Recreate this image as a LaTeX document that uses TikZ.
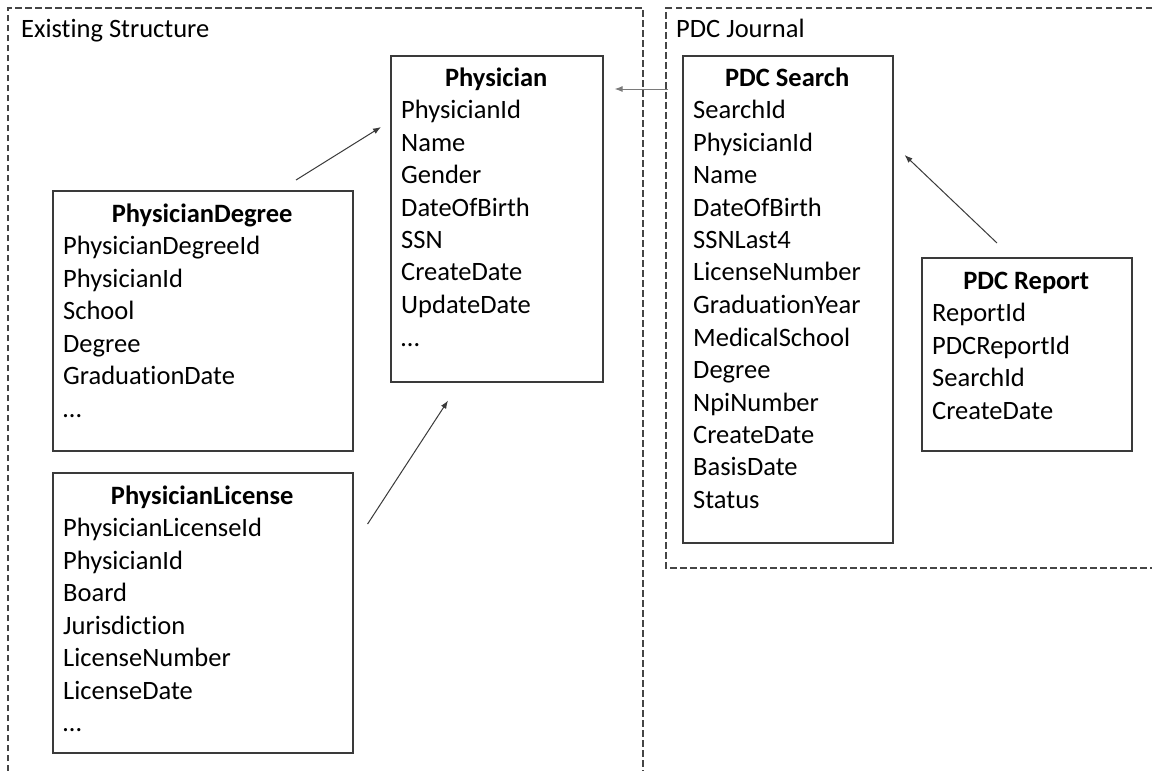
\documentclass[tikz,border=0pt]{standalone}
\usepackage{fontspec}
\setmainfont{Carlito}[Ligatures={NoCommon,NoRare,NoContextual}]
\usetikzlibrary{arrows.meta}
\definecolor{boxc}{HTML}{3A3A3A}
\definecolor{framec}{HTML}{454545}
\definecolor{arrc}{HTML}{3A3A3A}
\definecolor{arrlight}{HTML}{7A7A7A}
\newcommand{\tbltitle}[1]{{\centering\bfseries #1\par}}
\begin{document}
\begin{tikzpicture}[x=1pt,y=-1pt,
  frame/.style={draw=framec, line width=1.3pt, dash pattern=on 6.5pt off 3.5pt},
  tbl/.style={draw=boxc, line width=1.6pt, anchor=north west, inner sep=0pt},
  txt/.style={anchor=base west, inner sep=0pt, text=black, font=\fontsize{26.5}{32.5}\selectfont},
  arr/.style={draw=arrc, line width=1pt, -{Latex[length=8pt,width=6pt]}},
  arrl/.style={draw=arrlight, line width=1pt, -{Latex[length=8pt,width=6pt]}}]
\useasboundingbox (0,0) rectangle (1152,771);
\fill[white] (0,0) rectangle (1152,771);

% frames
\draw[frame] (8,771) -- (8,8) -- (643,8) -- (643,771);
\draw[frame] (1152,8) -- (666,8) -- (666,568) -- (1152,568);
\node[txt] (exlabel) at (21,37) {Existing Structure};
\node[txt] (pdclabel) at (676,37) {PDC Journal};

% Physician
\node[tbl, minimum width=212pt, minimum height=326pt] (phys) at (390,55) {};
\node[txt] (physT) at (401,86) {\parbox[t]{190pt}{\tbltitle{Physician}\raggedright
PhysicianId\\Name\\Gender\\DateOfBirth\\SSN\\CreateDate\\UpdateDate\\…}};

% PhysicianDegree
\node[tbl, minimum width=300pt, minimum height=260pt] (deg) at (52,190) {};
\node[txt] (degT) at (63,222) {\parbox[t]{278pt}{\tbltitle{PhysicianDegree}\raggedright
PhysicianDegreeId\\PhysicianId\\School\\Degree\\GraduationDate\\…}};

% PhysicianLicense
\node[tbl, minimum width=300pt, minimum height=280pt] (lic) at (52,472) {};
\node[txt] (licT) at (63,504) {\parbox[t]{278pt}{\tbltitle{PhysicianLicense}\raggedright
PhysicianLicenseId\\PhysicianId\\Board\\Jurisdiction\\LicenseNumber\\LicenseDate\\…}};

% PDC Search
\node[tbl, minimum width=210pt, minimum height=487pt] (search) at (682,55) {};
\node[txt] (searchT) at (693,86) {\parbox[t]{188pt}{\tbltitle{PDC Search}\raggedright
SearchId\\PhysicianId\\Name\\DateOfBirth\\SSNLast4\\LicenseNumber\\GraduationYear\\MedicalSchool\\Degree\\NpiNumber\\CreateDate\\BasisDate\\Status}};

% PDC Report
\node[tbl, minimum width=210pt, minimum height=193pt] (rep) at (921,257) {};
\node[txt] (repT) at (932,289) {\parbox[t]{188pt}{\tbltitle{PDC Report}\raggedright
ReportId\\PDCReportId\\SearchId\\CreateDate}};

% connectors
\draw[arrl, shorten <=14pt, shorten >=11pt] ([yshift=-34pt]search.north west) -- ([yshift=-34pt]phys.north east);
\draw[arr] ([xshift=244pt,yshift=10pt]deg.north west) -- ([xshift=-9pt,yshift=-72pt]phys.north west);
\draw[arr] ([xshift=14pt,yshift=-52pt]lic.north east) -- ([xshift=58pt,yshift=-18pt]phys.south west);
\draw[arr] ([xshift=76pt,yshift=14pt]rep.north west) -- ([xshift=11pt,yshift=-100pt]search.north east);
\end{tikzpicture}
\end{document}
